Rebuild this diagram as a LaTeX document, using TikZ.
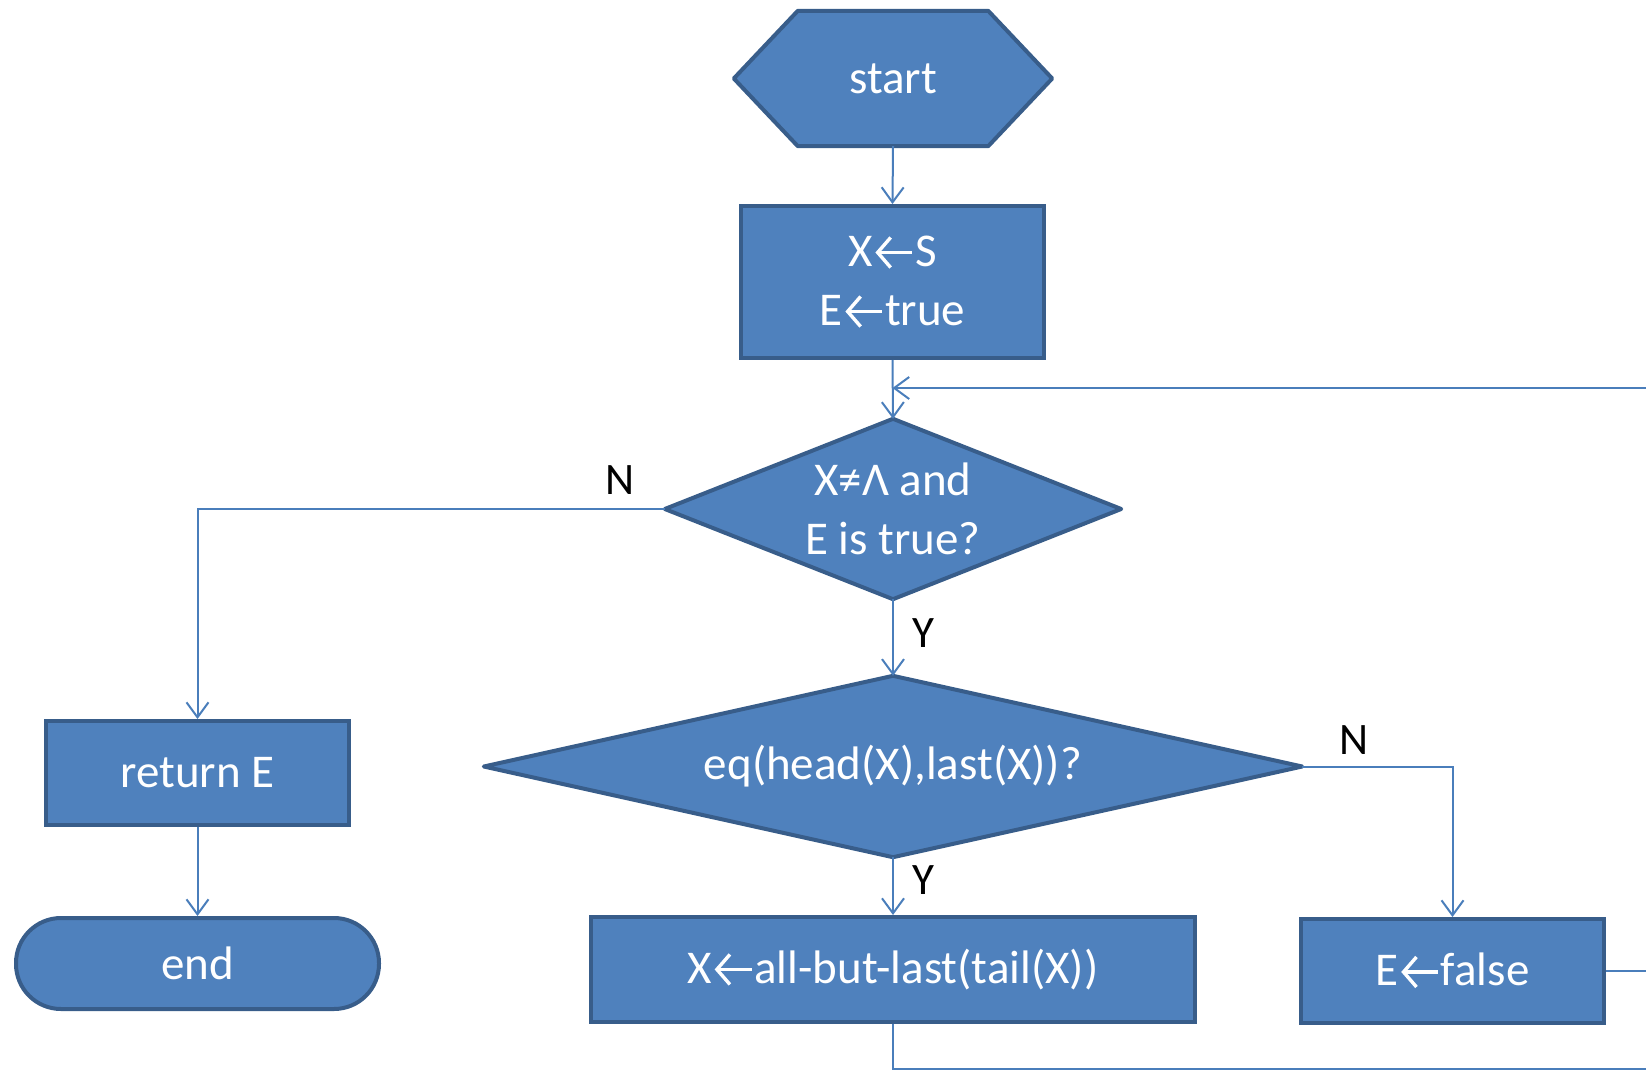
\documentclass[tikz,border=0pt]{standalone}
\usepackage{fontspec}
\setmainfont{Carlito}
\usetikzlibrary{arrows.meta,backgrounds}
\definecolor{boxfill}{HTML}{4F81BD}
\definecolor{boxline}{HTML}{385D8A}
\definecolor{connc}{HTML}{4A7EBB}
\newcommand{\larr}{\hspace{1pt}\tikz[baseline=0pt]{\draw[white,line width=3.4pt,line cap=butt,{Straight Barb[length=13pt,width=30pt,line width=3.4pt]}-] (0pt,14pt) -- (37pt,14pt);}\hspace{1pt}}
\tikzset{
  txt/.style={font=\fontsize{47}{59}\selectfont, text=white, align=center, inner sep=0pt},
  lbl/.style={font=\fontsize{45}{50}\selectfont, text=black, inner sep=0pt},
  proc/.style={txt, draw=boxline, fill=boxfill, line width=4pt},
  shapeborder/.style={draw=boxline, fill=boxfill, line width=4pt, line join=round},
  conn/.style={draw=connc, line width=2pt, -{Straight Barb[length=15pt,width=22pt,line width=2pt]}},
  connline/.style={draw=connc, line width=2pt}
}
\begin{document}
\begin{tikzpicture}[x=1pt,y=-1pt]
\useasboundingbox (0,0) rectangle (1646,1071);

% nodes
\node[txt, minimum width=318pt, minimum height=135pt] (start) at (893,78.5) {start};
\node[proc, minimum width=303pt, minimum height=152pt] (init) at (892.5,282) {X\larr S\\E\larr true};
\node[txt, minimum width=456pt, minimum height=180pt] (d1) at (893,509) {X≠Λ and\\E is true?};
\node[txt, minimum width=818pt, minimum height=181pt] (d2) at (893,766.5) {eq(head(X),last(X))?};
\node[proc, minimum width=303pt, minimum height=104pt] (retE) at (197.5,773) {return E};
\node[proc, minimum width=363pt, minimum height=91pt, rounded corners=45pt] (endn) at (197.5,963.5) {end};
\node[proc, minimum width=604pt, minimum height=105pt] (body) at (893,969.5) {X\larr all-but-last(tail(X))};
\node[proc, minimum width=303pt, minimum height=104pt] (efalse) at (1452.5,971) {E\larr false};

\begin{scope}[on background layer]
  \draw[shapeborder] (start.west) -- ([xshift=64pt]start.north west) -- ([xshift=-64pt]start.north east)
     -- (start.east) -- ([xshift=-64pt]start.south east) -- ([xshift=64pt]start.south west) -- cycle;
  \draw[shapeborder] (d1.north) -- (d1.east) -- (d1.south) -- (d1.west) -- cycle;
  \draw[shapeborder] (d2.north) -- (d2.east) -- (d2.south) -- (d2.west) -- cycle;
\end{scope}

% labels
\node[lbl] (n1) at (620,480) {N};
\node[lbl] (y1) at (923,633) {Y};
\node[lbl] (n2) at (1354,740) {N};
\node[lbl] (y2) at (923,880) {Y};

% free ends at the picture edge
\coordinate (loopin) at (1646,388);
\coordinate (botR) at (1646,1069);
\coordinate (falseR) at (1646,971);

% connectors
\draw[conn] (start.south) -- (init.north);
\draw[conn] (init.south) -- (d1.north);
\draw[conn] (loopin) -- (loopin -| init.south);
\draw[conn] (d1.west) -| (retE.north);
\draw[conn] (retE.south) -- (endn.north);
\draw[conn] (d1.south) -- (d2.north);
\draw[conn] (d2.east) -| (efalse.north);
\draw[conn] (d2.south) -- (body.north);
\draw[connline] (body.south) |- (botR);
\draw[connline] (efalse.east) -- (falseR);
\end{tikzpicture}
\end{document}
